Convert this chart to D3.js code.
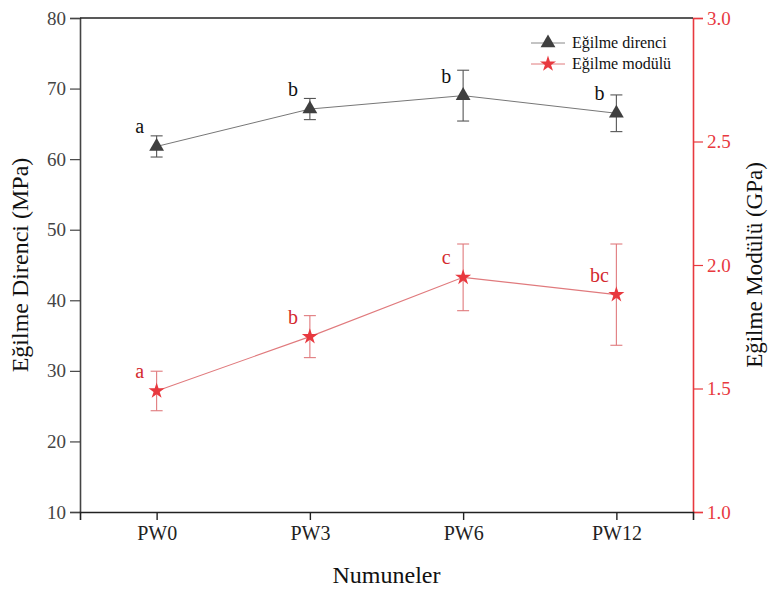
<!DOCTYPE html>
<html>
<head>
<meta charset="utf-8">
<script src="https://cdn.jsdelivr.net/npm/d3@7"></script>
<style>
  html, body { margin: 0; padding: 0; background: #fff; }
  svg { display: block; }
  svg text { font-family: "Liberation Serif", Tinos, "Times New Roman", Times, "DejaVu Serif", serif !important; }
</style>
</head>
<body>
<svg id="chart" width="769" height="590"></svg>
<script>
// Samples on the x axis
const samples = ["PW0", "PW3", "PW6", "PW12"];

// Flexural strength (MPa) with standard deviations and group letters
const strength = [61.8, 67.1, 69.0, 66.5];
const strengthErr = [1.5, 1.5, 3.6, 2.6];
const strengthGroups = ["a", "b", "b", "b"];

// Flexural modulus (GPa) with standard deviations and group letters
const modulus = [1.49, 1.71, 1.95, 1.88];
const modulusErr = [0.08, 0.085, 0.135, 0.205];
const modulusGroups = ["a", "b", "c", "bc"];

// Axis tick values
const leftTicks = [10, 20, 30, 40, 50, 60, 70, 80];
const rightTicks = [1.0, 1.5, 2.0, 2.5, 3.0];

const seriesNames = ["Eğilme direnci", "Eğilme modülü"];

const dark = "#3f3f3f";
const red = "#e8393f";
const redLight = "#e07a7d";
const serif = '"Liberation Serif", Tinos, "Times New Roman", Times, "DejaVu Serif", serif';

const margin = { left: 80, right: 76, top: 18, bottom: 78 };
const W = 769, H = 590;
const svg = d3.select("#chart");

const x = d3.scalePoint().domain(samples).range([margin.left, W - margin.right]).padding(0.5);
const yL = d3.scaleLinear().domain([10, 80]).range([H - margin.bottom, margin.top]);
const yR = d3.scaleLinear().domain([1.0, 3.0]).range([H - margin.bottom, margin.top]);

// ---- axes ----
const leftMinor = d3.range(10, 80.01, 2);
const rightMinor = d3.range(1.0, 3.001, 0.1);

const gL = svg.append("g").attr("transform", `translate(${margin.left},0)`);
gL.call(d3.axisLeft(yL).tickValues(leftMinor).tickSize(5).tickFormat(""));
gL.call(d3.axisLeft(yL).tickValues(leftTicks).tickSize(10).tickPadding(4).tickFormat(d3.format("d")));
gL.attr("font-family", serif);
gL.selectAll("path").attr("stroke", "#444").attr("stroke-width", 1.6);
gL.selectAll("line").attr("stroke", "#444").attr("stroke-width", 1.2);
gL.selectAll("text").attr("fill", "#444").style("font-size", "19px");

const gR = svg.append("g").attr("transform", `translate(${W - margin.right},0)`);
gR.call(d3.axisRight(yR).tickValues(rightMinor).tickSize(5).tickFormat(""));
gR.call(d3.axisRight(yR).tickValues(rightTicks).tickSize(10).tickPadding(4).tickFormat(d3.format(".1f")));
gR.attr("font-family", serif);
gR.selectAll("path").attr("stroke", red).attr("stroke-width", 1.6);
gR.selectAll("line").attr("stroke", red).attr("stroke-width", 1.2);
gR.selectAll("text").attr("fill", red).style("font-size", "19px");

const gB = svg.append("g").attr("transform", `translate(0,${H - margin.bottom})`);
gB.call(d3.axisBottom(x).tickSize(8).tickPadding(6));
gB.attr("font-family", serif);
gB.selectAll("path").attr("stroke", "#222").attr("stroke-width", 1.6);
gB.selectAll("line").attr("stroke", "#222").attr("stroke-width", 1.4);
gB.selectAll("text").attr("fill", "#222").style("font-size", "20px");

// top frame line
svg.append("line")
  .attr("x1", margin.left).attr("x2", W - margin.right)
  .attr("y1", margin.top).attr("y2", margin.top)
  .attr("stroke", "#222").attr("stroke-width", 1.6);

// ---- axis titles ----
svg.append("text")
  .attr("transform", `translate(28,${(margin.top + H - margin.bottom) / 2}) rotate(-90)`)
  .attr("text-anchor", "middle").attr("fill", "#111").attr("font-family", serif)
  .style("font-size", "24px").text("Eğilme Direnci (MPa)");

svg.append("text")
  .attr("transform", `translate(762,${(margin.top + H - margin.bottom) / 2}) rotate(-90)`)
  .attr("text-anchor", "middle").attr("fill", "#111").attr("font-family", serif)
  .style("font-size", "23px").text("Eğilme Modülü (GPa)");

svg.append("text")
  .attr("x", (margin.left + W - margin.right) / 2).attr("y", 583)
  .attr("text-anchor", "middle").attr("fill", "#111").attr("font-family", serif)
  .style("font-size", "24px").text("Numuneler");

// ---- helpers ----
function errorBars(values, errs, yScale, color) {
  const g = svg.append("g").attr("stroke", color).attr("stroke-width", 1.1).attr("fill", "none");
  samples.forEach((s, i) => {
    const cx = x(s), top = yScale(values[i] + errs[i]), bot = yScale(values[i] - errs[i]);
    g.append("line").attr("x1", cx).attr("x2", cx).attr("y1", top).attr("y2", bot);
    g.append("line").attr("x1", cx - 6).attr("x2", cx + 6).attr("y1", top).attr("y2", top);
    g.append("line").attr("x1", cx - 6).attr("x2", cx + 6).attr("y1", bot).attr("y2", bot);
  });
}

function seriesLine(values, yScale, color, width) {
  svg.append("path")
    .datum(values)
    .attr("fill", "none").attr("stroke", color).attr("stroke-width", width)
    .attr("d", d3.line().x((d, i) => x(samples[i])).y(d => yScale(d)));
}

const triangle = d3.symbol().type(d3.symbolTriangle).size(95);
const star = d3.symbol().type(d3.symbolStar).size(80);

function markers(values, yScale, sym, color) {
  svg.append("g").selectAll("path").data(values).join("path")
    .attr("d", sym)
    .attr("fill", color)
    .attr("transform", (d, i) => `translate(${x(samples[i])},${yScale(d)})`);
}

function groupLabels(values, letters, yScale, color) {
  svg.append("g").selectAll("text").data(letters).join("text")
    .attr("x", (d, i) => x(samples[i]) - 17)
    .attr("y", (d, i) => yScale(values[i]) - 13)
    .attr("text-anchor", "middle").attr("fill", color).attr("font-family", serif)
    .style("font-size", "20px")
    .text(d => d);
}

// ---- strength series ----
seriesLine(strength, yL, "#777", 1);
errorBars(strength, strengthErr, yL, "#555");
markers(strength, yL, triangle, dark);
groupLabels(strength, strengthGroups, yL, "#111");

// ---- modulus series ----
seriesLine(modulus, yR, redLight, 1.1);
errorBars(modulus, modulusErr, yR, redLight);
markers(modulus, yR, star, red);
groupLabels(modulus, modulusGroups, yR, "#d42a2f");

// ---- legend ----
const legend = svg.append("g").attr("transform", "translate(531,43)");
const items = [
  { name: seriesNames[0], color: "#888", mark: triangle, fill: dark },
  { name: seriesNames[1], color: redLight, mark: star, fill: red }
];
items.forEach((it, i) => {
  const g = legend.append("g").attr("transform", `translate(0,${i * 21})`);
  g.append("line").attr("x1", 0).attr("x2", 34).attr("stroke", it.color).attr("stroke-width", 1);
  g.append("path").attr("d", it.mark).attr("fill", it.fill).attr("transform", "translate(17,0)");
  g.append("text").attr("x", 41).attr("y", 5).attr("fill", "#111").attr("font-family", serif)
    .style("font-size", "16px").text(it.name);
});
</script>
</body>
</html>
